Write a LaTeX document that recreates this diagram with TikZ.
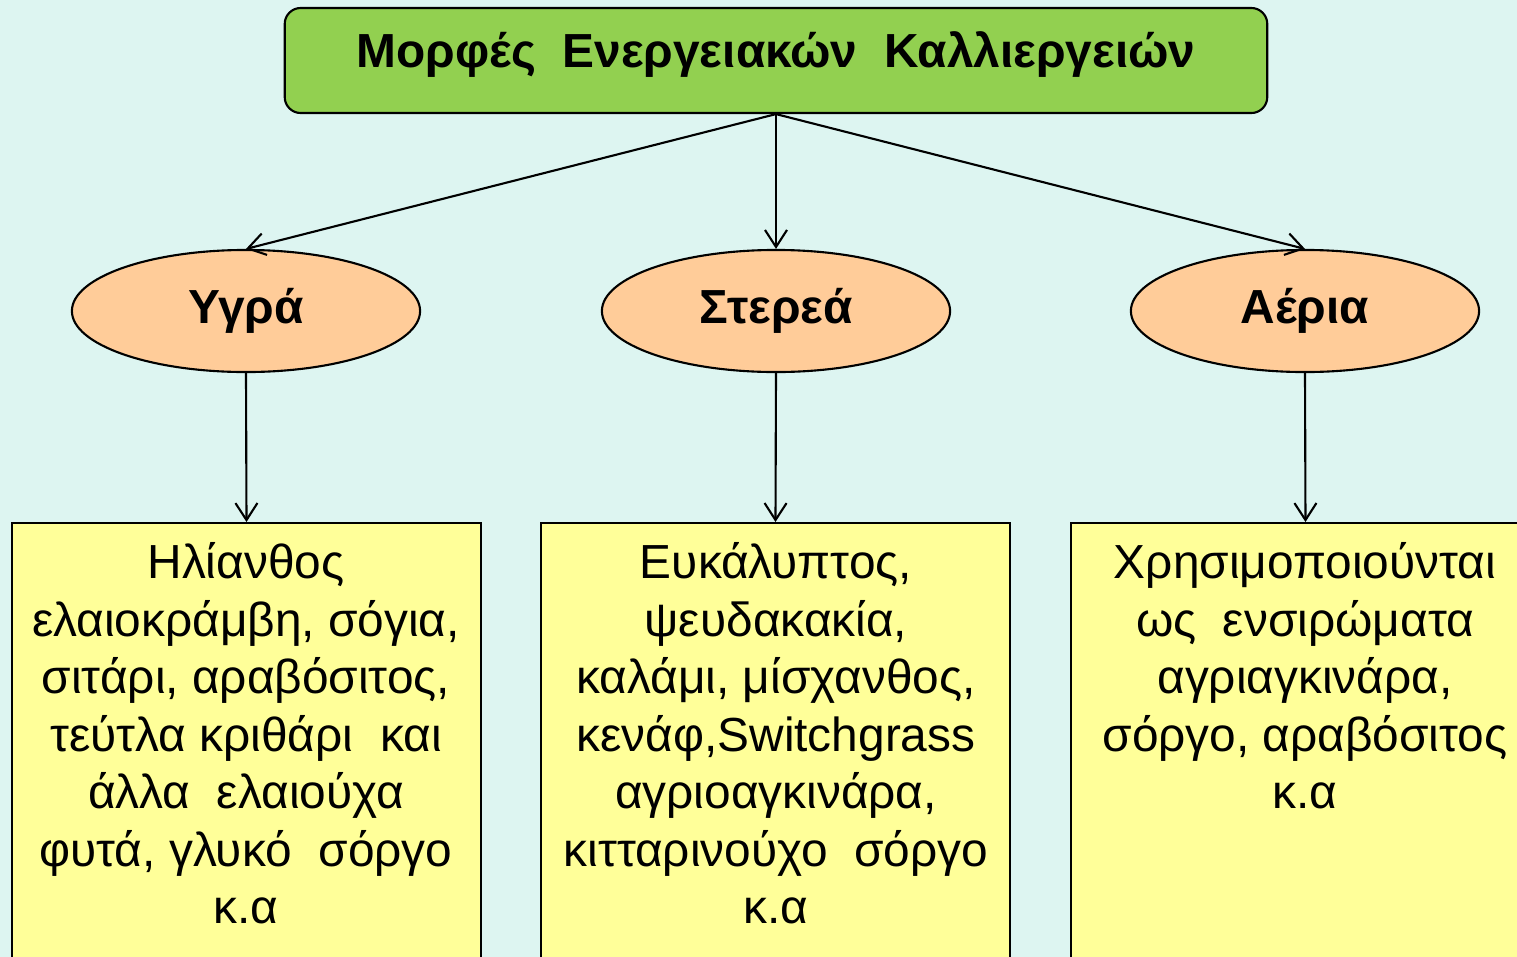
\documentclass[tikz,border=0pt]{standalone}
\usepackage{fontspec}
\setmainfont{Liberation Sans}
\usetikzlibrary{shapes.geometric,arrows.meta}
\definecolor{bgc}{HTML}{DDF5F1}
\definecolor{greenc}{HTML}{92D050}
\definecolor{peach}{HTML}{FFCC99}
\definecolor{yell}{HTML}{FFFF99}
\tikzset{
  topbox/.style={draw=black, line width=0.6pt, fill=greenc, rounded corners=0.16cm, minimum width=9.82cm, minimum height=1.05cm, inner sep=0},
  title/.style={font=\fontsize{13.6pt}{16pt}\selectfont\bfseries, inner sep=0},
  cat/.style={ellipse, draw=black, line width=0.6pt, fill=peach, minimum width=3.48cm, minimum height=1.22cm, inner sep=0, font=\fontsize{13.6pt}{16pt}\selectfont\bfseries},
  listbox/.style={rectangle, draw=black, line width=0.6pt, fill=yell, minimum width=4.69cm, minimum height=5cm, inner sep=0},
  listtxt/.style={font=\fontsize{13.6pt}{16.35pt}\selectfont, align=center, inner sep=0, anchor=north},
  conn/.style={line width=0.6pt, -{Straight Barb[length=0.17cm,width=0.22cm,line width=0.6pt]}}
}
\begin{document}
\begin{tikzpicture}[x=0.01cm,y=-0.01cm]
\fill[bgc] (0,0) rectangle (1517,957);
\clip (0,0) rectangle (1517,957);
\node[topbox] (top) at (776,60.5) {};
\node[title] (toptxt) at (776,55) {Μορφές\ \ Ενεργειακών\ \ Καλλιεργειών};
\node[cat] (yg) at (246,311) {Υγρά};
\node[cat] (st) at (776,311) {Στερεά};
\node[cat] (ae) at (1305,311) {Αέρια};
\node[listbox, anchor=north] (b1) at (246.5,522) {};
\node[listbox, anchor=north] (b2) at (775.5,522) {};
\node[listbox, anchor=north] (b3) at (1305.5,522) {};
\node[listtxt] (t1) at (246,542) {Ηλίανθος\\ελαιοκράμβη, σόγια,\\σιτάρι, αραβόσιτος,\\τεύτλα κριθάρι\ \ και\\άλλα\ \ ελαιούχα\\φυτά, γλυκό\ \ σόργο\\κ.α};
\node[listtxt] (t2) at (776,542) {Ευκάλυπτος,\\ψευδακακία,\\καλάμι, μίσχανθος,\\κενάφ,Switchgrass\\αγριοαγκινάρα,\\κιτταρινούχο\ \ σόργο\\κ.α};
\node[listtxt] (t3) at (1305,542) {Χρησιμοποιούνται\\ως\ \ ενσιρώματα\\αγριαγκινάρα,\\σόργο, αραβόσιτος\\κ.α};
\draw[conn] (top.south) -- (yg.north);
\draw[conn] (top.south) -- (st.north);
\draw[conn] (top.south) -- (ae.north);
\draw[conn] (yg.south) -- (b1.north);
\draw[conn] (st.south) -- (b2.north);
\draw[conn] (ae.south) -- (b3.north);
\end{tikzpicture}
\end{document}
